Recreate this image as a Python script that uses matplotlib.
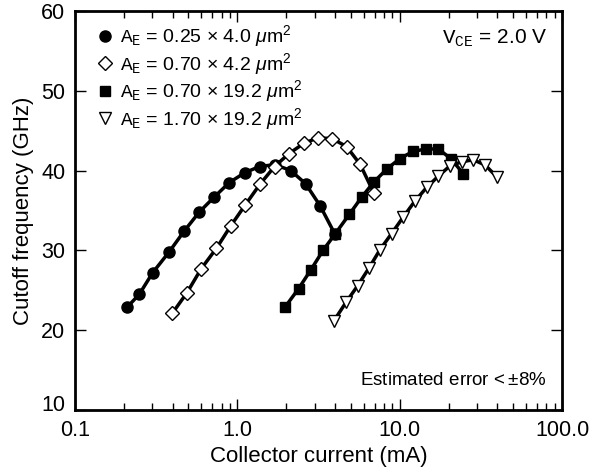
import matplotlib
matplotlib.use("Agg")
import matplotlib.pyplot as plt
import matplotlib.transforms as mtransforms
from matplotlib.lines import Line2D
from matplotlib.ticker import LogLocator, FixedLocator, NullFormatter, FixedFormatter

plt.rcParams['font.family'] = ['Liberation Sans', 'DejaVu Sans']
plt.rcParams['mathtext.fontset'] = 'custom'
plt.rcParams['mathtext.rm'] = 'Liberation Sans'
plt.rcParams['mathtext.it'] = 'Liberation Sans:italic'
plt.rcParams['mathtext.tt'] = 'Liberation Mono'
plt.rcParams['mathtext.sf'] = 'Liberation Sans'

# Data (collector current in mA, cutoff frequency in GHz)
i_a = [0.210, 0.249, 0.301, 0.380, 0.470, 0.583, 0.722, 0.893, 1.116, 1.370,
       1.707, 2.133, 2.633, 3.233, 4.00]
f_a = [22.9, 24.5, 27.2, 29.8, 32.4, 34.8, 36.7, 38.5, 39.75, 40.5,
       40.75, 40.0, 38.35, 35.6, 32.0]

i_b = [0.397, 0.490, 0.599, 0.743, 0.913, 1.120, 1.380, 1.695, 2.074, 2.565,
       3.129, 3.843, 4.708, 5.70, 6.93]
f_b = [22.1, 24.7, 27.7, 30.25, 33.1, 35.7, 38.3, 40.5, 42.1, 43.4,
       44.1, 44.0, 43.0, 40.8, 37.2]

i_c = [1.968, 2.383, 2.846, 3.373, 4.016, 4.892, 5.850, 6.958, 8.40, 10.03,
       12.09, 14.50, 17.31, 20.64, 24.69]
f_c = [22.9, 25.2, 27.6, 30.0, 32.1, 34.5, 36.7, 38.6, 40.25, 41.5,
       42.4, 42.7, 42.7, 41.5, 39.6]

i_d = [3.943, 4.675, 5.503, 6.478, 7.572, 8.914, 10.54, 12.44, 14.69, 17.31,
       20.44, 24.23, 28.34, 33.59, 39.66]
f_d = [21.2, 23.5, 25.55, 27.8, 30.1, 32.1, 34.2, 36.2, 37.9, 39.3,
       40.6, 41.1, 41.35, 40.7, 39.2]

labels = [r'$\mathtt{A}_{\mathtt{E}}$ = 0.25 $\times$ 4.0 $\mu\mathrm{m}^2$',
          r'$\mathtt{A}_{\mathtt{E}}$ = 0.70 $\times$ 4.2 $\mu\mathrm{m}^2$',
          r'$\mathtt{A}_{\mathtt{E}}$ = 0.70 $\times$ 19.2 $\mu\mathrm{m}^2$',
          r'$\mathtt{A}_{\mathtt{E}}$ = 1.70 $\times$ 19.2 $\mu\mathrm{m}^2$']

x_ticks = [0.1, 1.0, 10.0, 100.0]
x_ticklabels = ['0.1', '1.0', '10.0', '100.0']
y_ticks = [10, 20, 30, 40, 50, 60]

fig = plt.figure(figsize=(5.89, 4.74), dpi=100)
ax = fig.add_axes([0.1273, 0.135, 0.8269, 0.842])

styles = [
    dict(marker='o', markersize=8, markerfacecolor='black', markeredgecolor='black'),
    dict(marker='D', markersize=7, markerfacecolor='white', markeredgecolor='black', markeredgewidth=1.0),
    dict(marker='s', markersize=7, markerfacecolor='black', markeredgecolor='black'),
    dict(marker='v', markersize=9, markerfacecolor='white', markeredgecolor='black', markeredgewidth=1.0),
]
series = [(i_a, f_a), (i_b, f_b), (i_c, f_c), (i_d, f_d)]

for (xs, ys), st in zip(series, styles):
    ax.plot(xs, ys, color='black', linewidth=2.5, zorder=2)
for (xs, ys), st in zip(series, styles):
    ax.plot(xs, ys, linestyle='none', zorder=3, **st)

ax.set_xscale('log')
ax.set_xlim(0.1, 100)
ax.set_ylim(10, 60)
ax.xaxis.set_major_locator(FixedLocator(x_ticks))
ax.xaxis.set_major_formatter(FixedFormatter(x_ticklabels))
ax.xaxis.set_minor_locator(LogLocator(base=10, subs=range(2, 10)))
ax.xaxis.set_minor_formatter(NullFormatter())
ax.yaxis.set_major_locator(FixedLocator(y_ticks))

ax.tick_params(which='both', direction='in', top=True, right=True, labelsize=15.5, width=1.0)
ax.tick_params(which='major', length=8)
ax.tick_params(which='minor', length=5)
ax.tick_params(axis='x', which='major', pad=7)
ax.tick_params(axis='y', which='major', pad=7)
for sp in ax.spines.values():
    sp.set_linewidth(2.0)

ax.set_xlabel('Collector current (mA)', fontsize=16, labelpad=4)
ax.set_ylabel('Cutoff frequency (GHz)', fontsize=16, labelpad=5)

# lift the bottom y tick label so it does not collide with "0.1"
fig.canvas.draw()
lift = mtransforms.ScaledTranslation(0, 5 / 72, fig.dpi_scale_trans)
ylabs = ax.get_yticklabels()
ylabs[0].set_transform(ylabs[0].get_transform() + lift)

handles = [Line2D([], [], linestyle='none', **st) for st in styles]
ax.legend(handles, labels, loc='upper left', frameon=False, fontsize=14,
          handlelength=0.8, handletextpad=0.35, labelspacing=0.08,
          borderaxespad=0.25, bbox_to_anchor=(0.02, 1.0))

ax.text(0.969, 0.932, r'$\mathtt{V}_{\mathtt{CE}}$ = 2.0 V', transform=ax.transAxes,
        ha='right', va='center', fontsize=15)
ax.text(0.969, 0.075, r'Estimated error$\,<\pm$8%', transform=ax.transAxes,
        ha='right', va='center', fontsize=13.5)

fig.savefig('out.png', dpi=100)
